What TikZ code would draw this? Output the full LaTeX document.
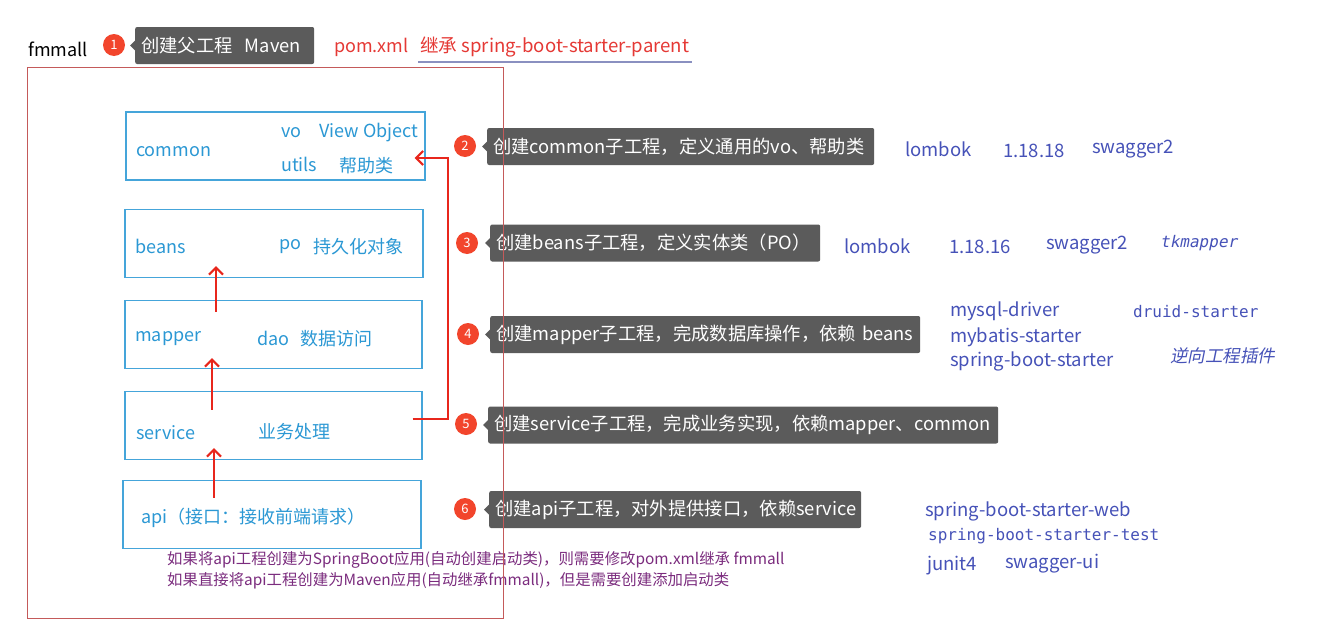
\documentclass[tikz,border=0pt]{standalone}
\usepackage{fontspec}
\setmainfont{Noto Sans CJK SC}
\newfontfamily\mono{DejaVu Sans Mono}
\newfontfamily\monoit[FakeSlant=0.2]{DejaVu Sans Mono}
\newfontfamily\cjkit[FakeSlant=0.2]{Noto Sans CJK SC}
\usetikzlibrary{arrows.meta,calc}
\definecolor{boxblue}{HTML}{45A5DA}
\definecolor{txtblue}{HTML}{2B98D4}
\definecolor{indigo}{HTML}{4652B8}
\definecolor{badge}{HTML}{F2452C}
\definecolor{callgray}{HTML}{5B5B5B}
\definecolor{redtxt}{HTML}{E53935}
\definecolor{purp}{HTML}{7B2C7E}
\definecolor{arrred}{HTML}{E8261C}
\definecolor{framec}{HTML}{C45A5A}
\definecolor{ulc}{HTML}{8A90C0}
\begin{document}
\begin{tikzpicture}[x=1pt,y=-1pt,
 lbl/.style={inner sep=0pt, anchor=west, yshift=-1.5pt, font=\fontsize{18}{21}\selectfont},
 boxtxt/.style={lbl, text=txtblue, font=\fontsize{18}{21}\selectfont},
 deptxt/.style={lbl, text=indigo, font=\fontsize{18.5}{21}\selectfont},
 monotxt/.style={lbl, text=indigo, font=\fontsize{16}{19}\selectfont\mono},
 bluebox/.style={draw=boxblue, line width=1.2pt, minimum height=68pt, inner sep=0pt},
 badgec/.style={circle, fill=badge, text=white, minimum size=22pt, inner sep=0pt, font=\fontsize{13}{15}\selectfont},
 callout/.style={fill=callgray, text=white, rounded corners=2pt, minimum height=37pt, inner xsep=6pt, inner ysep=0pt, anchor=west, align=left, font=\fontsize{18.3}{21}\selectfont},
 arr/.style={draw=arrred, line width=2.2pt, -{Straight Barb[length=7pt,width=14pt,line width=2.2pt]}},
]
\useasboundingbox (0,0) rectangle (1328,629);
\fill[white] (0,0) rectangle (1328,629);

% title row
\node[lbl, text=black] (fm) at (28,48) {fmmall};
\node[badgec] (b1) at (114,45) {1};
\node[callout, text width=167pt] (c1) at (135,45.5) {创建父工程\ \ Maven};
\fill[callgray] ($(c1.west)+(0,-5)$) -- ++(-5,5) -- ++(5,5) -- cycle;
\node[lbl, text=redtxt] (pom) at (334,46) {pom.xml};
\node[lbl, text=redtxt, font=\fontsize{18.6}{21}\selectfont] (inh) at (420,46) {继承 spring-boot-starter-parent};
\draw[ulc, line width=1.4pt] ($(inh.south west)+(-2,4)$) -- ($(inh.south east)+(3,4)$);

% module boxes
\node[bluebox, minimum width=299pt] (common) at (275.5,146) {};
\node[bluebox, minimum width=298pt] (beans) at (274,243.5) {};
\node[bluebox, minimum width=297pt] (mapper) at (273.5,334.5) {};
\node[bluebox, minimum width=297pt] (service) at (273.5,425.5) {};
\node[bluebox, minimum width=298pt] (api) at (272,514.5) {};

\node[boxtxt] (t1) at (136,150) {common};
\node[boxtxt] (t2) at (281,131) {vo};
\node[boxtxt] (t3) at (319,131) {View Object};
\node[boxtxt] (t4) at (281,163) {utils};
\node[boxtxt] (t5) at (339,164) {帮助类};
\node[boxtxt] (t6) at (135,245) {beans};
\node[boxtxt] (t7) at (279,245) {po};
\node[boxtxt] (t8) at (313,245) {持久化对象};
\node[boxtxt] (t9) at (135,337) {mapper};
\node[boxtxt] (t10) at (257,337) {dao};
\node[boxtxt] (t11) at (300,337) {数据访问};
\node[boxtxt] (t12) at (136,431) {service};
\node[boxtxt] (t13) at (258,430) {业务处理};
\node[boxtxt] (t14) at (141,516) {api（接口：接收前端请求）};

% arrows
\draw[arr] ($(api.north)+(-58,18)$) -- ($(service.south)+(-59.5,-12)$);
\draw[arr] ($(service.north)+(-61.5,19)$) -- ($(mapper.south)+(-61.5,-11)$);
\draw[arr] ($(mapper.north)+(-57.5,12)$) -- ($(beans.south)+(-58,-12)$);
\draw[arr] ($(service.east)+(-10,-6.5)$) -- (448,419) -- (448,158) -- ($(common.east)+(-11,12)$);

% notes under api
\node[lbl, text=purp, font=\fontsize{15.4}{17}\selectfont] (n1) at (167,558) {如果将api工程创建为SpringBoot应用(自动创建启动类)，则需要修改pom.xml继承 fmmall};
\node[lbl, text=purp, font=\fontsize{15.4}{17}\selectfont] (n2) at (167,579) {如果直接将api工程创建为Maven应用(自动继承fmmall)，但是需要创建添加启动类};

% steps
\node[badgec] (b2) at (465,146) {2};
\node[callout, text width=375pt] (c2) at (487,146.5) {创建common子工程，定义通用的vo、帮助类};
\fill[callgray] ($(c2.west)+(0,-5)$) -- ++(-5,5) -- ++(5,5) -- cycle;
\node[badgec] (b3) at (467,243) {3};
\node[callout, text width=318pt] (c3) at (490,243) {创建beans子工程，定义实体类（PO）};
\fill[callgray] ($(c3.west)+(0,-5)$) -- ++(-5,5) -- ++(5,5) -- cycle;
\node[badgec] (b4) at (468,334) {4};
\node[callout, text width=418pt] (c4) at (490,334.5) {创建mapper子工程，完成数据库操作，依赖 beans};
\fill[callgray] ($(c4.west)+(0,-5)$) -- ++(-5,5) -- ++(5,5) -- cycle;
\node[badgec] (b5) at (466,424) {5};
\node[callout, text width=498pt] (c5) at (488,425) {创建service子工程，完成业务实现，依赖mapper、common};
\fill[callgray] ($(c5.west)+(0,-5)$) -- ++(-5,5) -- ++(5,5) -- cycle;
\node[badgec] (b6) at (465,509) {6};
\node[callout, text width=360pt] (c6) at (489,509.5) {创建api子工程，对外提供接口，依赖service};
\fill[callgray] ($(c6.west)+(0,-5)$) -- ++(-5,5) -- ++(5,5) -- cycle;

% outer frame (drawn over callouts)
\node[draw=framec, line width=1pt, minimum width=476pt, minimum height=551pt, inner sep=0pt] (outer) at (265,342.5) {};

% dependencies
\node[deptxt] (d1) at (905,148) {lombok};
\node[deptxt] (d2) at (1003,149) {1.18.18};
\node[deptxt] (d3) at (1092,148) {swagger2};
\node[deptxt] (d4) at (844,245) {lombok};
\node[deptxt] (d5) at (949,245) {1.18.16};
\node[deptxt] (d6) at (1046,244) {swagger2};
\node[monotxt, font=\fontsize{16}{19}\selectfont\monoit] (d7) at (1160,242) {tkmapper};
\node[deptxt] (d8) at (950,310) {mysql-driver};
\node[monotxt] (d9) at (1133,310) {druid-starter};
\node[deptxt] (d10) at (950,336) {mybatis-starter};
\node[deptxt] (d11) at (950,360) {spring-boot-starter};
\node[deptxt, font=\fontsize{17.5}{20}\selectfont\cjkit] (d12) at (1170,354) {逆向工程插件};
\node[deptxt] (d13) at (925,510) {spring-boot-starter-web};
\node[monotxt] (d14) at (928,535) {spring-boot-starter-test};
\node[deptxt] (d15) at (927,564) {junit4};
\node[deptxt] (d16) at (1005,562) {swagger-ui};
\end{tikzpicture}
\end{document}
